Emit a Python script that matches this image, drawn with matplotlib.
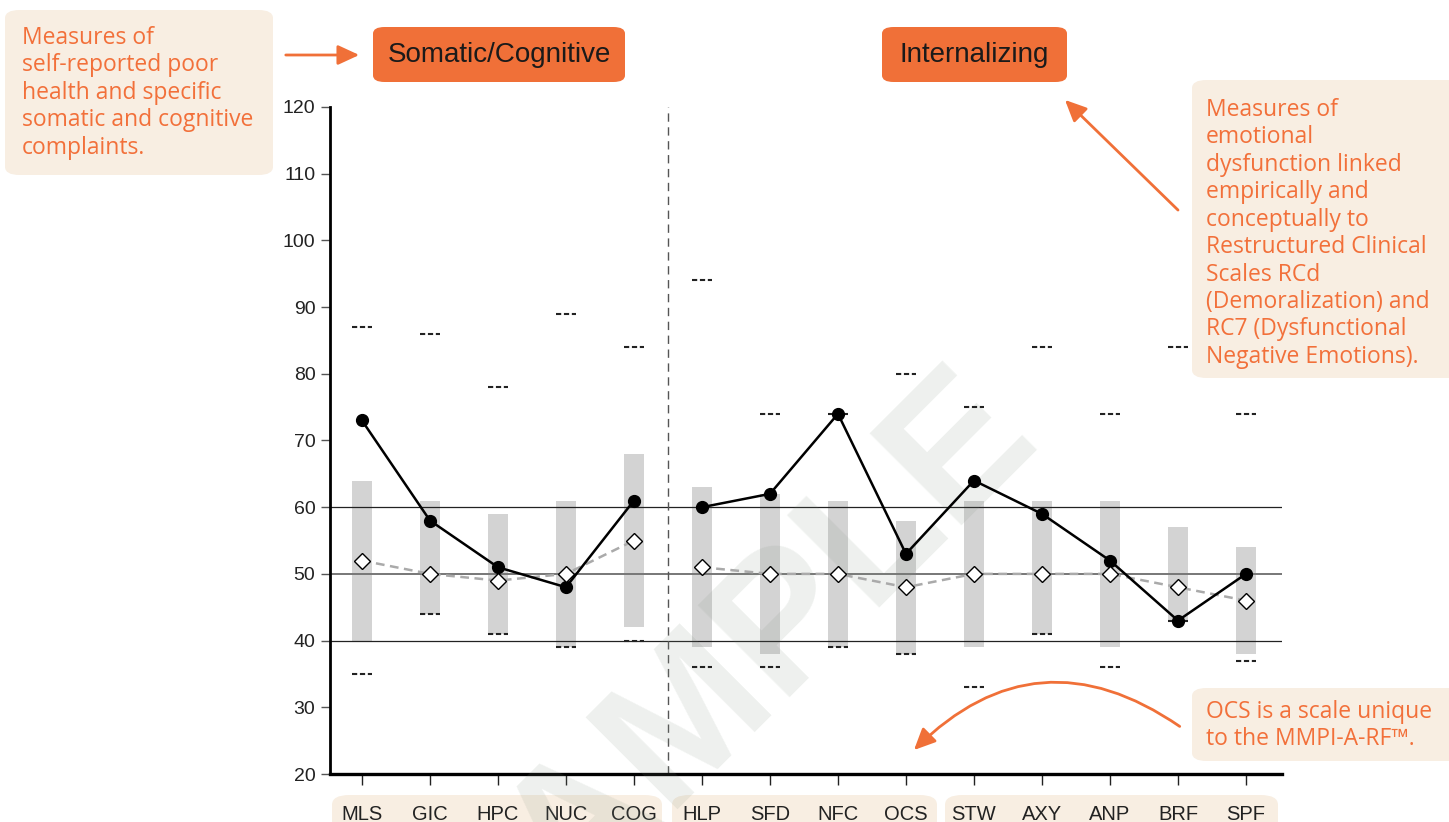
import matplotlib.pyplot as plt
from matplotlib.patches import FancyBboxPatch, FancyArrowPatch

W, H = 1449, 822

scales = ["MLS", "GIC", "HPC", "NUC", "COG",
          "HLP", "SFD", "NFC", "OCS", "STW", "AXY", "ANP", "BRF", "SPF"]
groups = [(0, 5), (5, 14)]
client = [73, 58, 51, 48, 61, 60, 62, 74, 53, 64, 59, 52, 43, 50]
sample_mean = [52, 50, 49, 50, 55, 51, 50, 50, 48, 50, 50, 50, 48, 46]
band_low = [40, 44, 41, 39, 42, 39, 38, 39, 38, 39, 41, 39, 43, 38]
band_high = [64, 61, 59, 61, 68, 63, 62, 61, 58, 61, 61, 61, 57, 54]
sd_high = [87, 86, 78, 89, 84, 94, 74, 74, 80, 75, 84, 74, 84, 74]
sd_low = [35, 44, 41, 39, 40, 36, 36, 39, 38, 33, 41, 36, 43, 37]
yticks = list(range(20, 121, 10))

ORANGE = "#f07038"
TEXT_OR = "#f2703a"
BEIGE = "#f8eee2"
SANS = ["Liberation Sans", "DejaVu Sans"]
NOTE = ["Open Sans", "DejaVu Sans"]


def px(x, y):
    return x / W, 1 - y / H


fig = plt.figure(figsize=(W / 100, H / 100), dpi=100)
ax = fig.add_axes([330 / W, 1 - 774 / H, (1282 - 330) / W, (774 - 107) / H])
ax.set_zorder(1)

x = list(range(len(scales)))
heights = [hi - lo for hi, lo in zip(band_high, band_low)]
ax.bar(x, heights, bottom=band_low, width=0.3, color="#d3d3d3", zorder=1)

for yv, c, lw in [(60, "#222222", 0.9), (50, "#777777", 1.4), (40, "#222222", 0.9)]:
    ax.axhline(yv, color=c, lw=lw, zorder=2)
ax.axvline(4.5, color="#555555", lw=1.0, ls=(0, (6, 4)), zorder=2)

# watermark
ax.text(*px(481, 1001), "SAMPLE", rotation=45, rotation_mode="anchor",
        fontsize=137, fontweight="bold", color="#7f8f7f", alpha=0.13,
        ha="left", va="baseline", family=SANS, transform=fig.transFigure,
        clip_on=False, zorder=3)

for a, b in groups:
    xs = x[a:b]
    ax.plot(xs, sample_mean[a:b], color="#aaaaaa", lw=1.8, ls=(0, (3.5, 2.2)), zorder=4)
    ax.plot(xs, sample_mean[a:b], ls="none", marker="D", ms=8, mfc="white",
            mec="black", mew=1, zorder=6)
    ax.plot(xs, client[a:b], color="black", lw=1.8, marker="o", ms=8.5, zorder=5)

for v in (sd_high, sd_low):
    ax.hlines(v, [xi - 0.15 for xi in x], [xi + 0.15 for xi in x],
              colors="#222222", lw=1.5, linestyles=(0, (2.5, 1.3)), zorder=4)

ax.set_xlim(-0.47, 13.53)
ax.set_ylim(20, 120)
ax.set_yticks(yticks)
ax.set_xticks(x)
ax.set_xticklabels(scales, family=SANS, fontsize=14.5, color="#222222")
ax.set_yticklabels([str(t) for t in yticks], family=SANS, fontsize=14, color="#222222")
ax.tick_params(axis="x", length=8, width=1, pad=14, color="#222222")
ax.tick_params(axis="y", length=6.5, width=1, pad=4, color="#555555")
for s in ("top", "right"):
    ax.spines[s].set_visible(False)
ax.spines["left"].set_linewidth(2)
ax.spines["bottom"].set_linewidth(2.4)
ax.patch.set_alpha(0)

# label boxes under the axis
for x0, x1 in [(332, 662), (672, 937), (945, 1278)]:
    fx, fy = px(x0, 840)
    fx1, fy1 = px(x1, 795)
    fig.patches.append(FancyBboxPatch((fx, fy), fx1 - fx, fy1 - fy,
                                      boxstyle="round,pad=0,rounding_size=0.012",
                                      transform=fig.transFigure, fc=BEIGE, ec="none",
                                      zorder=0))

# header boxes
for label, x0, x1 in [("Somatic/Cognitive", 373, 625), ("Internalizing", 882, 1067)]:
    fx, fy = px(x0, 82)
    fx1, fy1 = px(x1, 27)
    fig.patches.append(FancyBboxPatch((fx, fy), fx1 - fx, fy1 - fy,
                                      boxstyle="round,pad=0,rounding_size=0.008",
                                      transform=fig.transFigure, fc=ORANGE, ec="none"))
    fig.text((fx + fx1) / 2, (fy + fy1) / 2, label, ha="center", va="center",
             fontsize=20, color="#1a1a1a", family=SANS)

# note boxes
notes = [
    ((5, 10, 273, 175), (22, 26),
     "Measures of\nself-reported poor\nhealth and specific\nsomatic and cognitive\ncomplaints."),
    ((1192, 80, 1470, 378), (1206, 98),
     "Measures of\nemotional\ndysfunction linked\nempirically and\nconceptually to\n"
     "Restructured Clinical\nScales RCd\n(Demoralization) and\nRC7 (Dysfunctional\n"
     "Negative Emotions)."),
    ((1192, 688, 1470, 761), (1206, 700),
     "OCS is a scale unique\nto the MMPI-A-RF\u2122."),
]
for (x0, y0, x1, y1), (tx, ty), txt in notes:
    fx, fy = px(x0, y1)
    fx1, fy1 = px(x1, y0)
    fig.patches.append(FancyBboxPatch((fx, fy), fx1 - fx, fy1 - fy,
                                      boxstyle="round,pad=0,rounding_size=0.01",
                                      transform=fig.transFigure, fc=BEIGE, ec="none"))
    fig.text(*px(tx, ty), txt, ha="left", va="top", fontsize=16.5,
             color=TEXT_OR, family=NOTE, linespacing=1.19)

# arrows
arrows = [((283, 55), (362, 55), "arc3,rad=0"),
          ((1180, 212), (1063, 98), "arc3,rad=0"),
          ((1182, 728), (912, 752), "arc3,rad=0.42")]
for p0, p1, cs in arrows:
    fig.patches.append(FancyArrowPatch(px(*p0), px(*p1), transform=fig.transFigure,
                                       connectionstyle=cs,
                                       arrowstyle="-|>,head_length=13,head_width=6",
                                       color=ORANGE, lw=2, mutation_scale=1))

fig.savefig("out.png", dpi=100)
